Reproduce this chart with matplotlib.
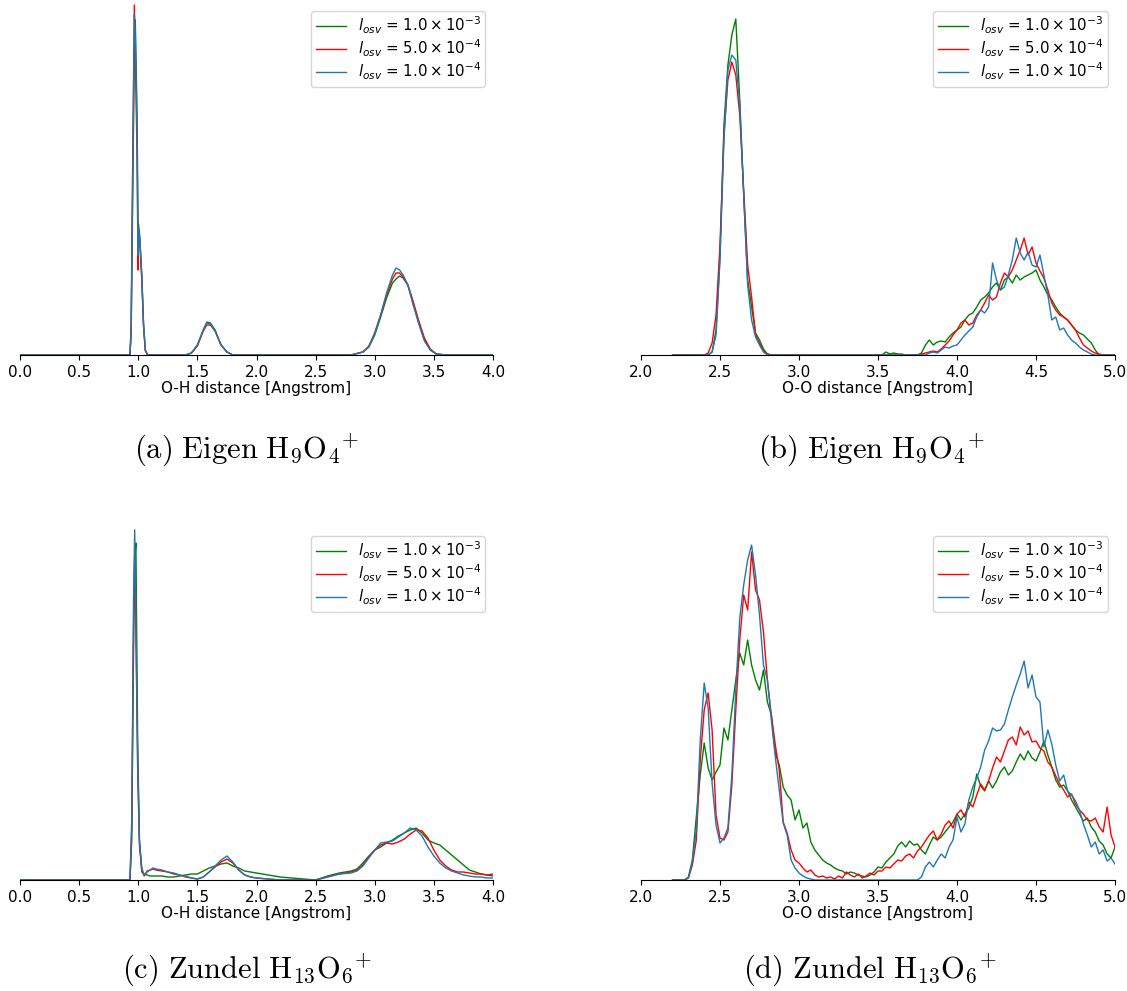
import numpy as np
import matplotlib
matplotlib.use("Agg")
import matplotlib.pyplot as plt

plt.rcParams['mathtext.fontset'] = 'dejavusans'

labels = [r'$l_{osv}$ = $1.0\times10^{-3}$',
          r'$l_{osv}$ = $5.0\times10^{-4}$',
          r'$l_{osv}$ = $1.0\times10^{-4}$']
colors = ['green', 'red', '#1f77b4']

# O-H distances, Eigen
x_a = [0.0, 0.93, 0.94, 0.955, 0.967, 0.975, 0.99, 0.998, 1.002, 1.012, 1.03, 1.045, 1.06, 1.08,
       1.40, 1.45, 1.50, 1.55, 1.58, 1.61, 1.65, 1.70, 1.75, 1.80,
       2.80, 2.90, 2.95, 3.00, 3.05, 3.10, 3.15, 3.18, 3.21, 3.24, 3.28, 3.32, 3.37, 3.42, 3.47, 3.52, 3.60, 4.0]
a_green = [0, 0, 20, 180, 300, 335, 240, 131, 131, 120, 80, 30, 5, 0,
           0, 2, 10, 25, 33, 32, 25, 10, 3, 0,
           0, 3, 8, 20, 38, 57, 72, 76, 79, 77, 70, 55, 33, 15, 5, 1, 0, 0]
a_red = [0, 0, 30, 220, 350, 300, 200, 85, 125, 115, 75, 28, 4, 0,
         0, 2, 9, 24, 30, 30, 24, 10, 3, 0,
         0, 3, 9, 22, 40, 60, 76, 82, 82, 78, 70, 55, 35, 17, 6, 1, 0, 0]
a_blue = [0, 0, 25, 200, 340, 320, 220, 100, 125, 118, 78, 30, 5, 0,
          0, 2, 10, 25, 32, 31, 24, 10, 3, 0,
          0, 3, 8, 22, 40, 62, 80, 87, 85, 80, 70, 52, 32, 14, 5, 1, 0, 0]

# O-H distances, Zundel
x_c = [0.0, 0.93, 0.945, 0.96, 0.97, 0.98, 0.995, 1.01, 1.03,
       1.05, 1.075, 1.1, 1.125, 1.15, 1.2, 1.25, 1.3, 1.35, 1.4, 1.45, 1.5,
       1.55, 1.6, 1.65, 1.7, 1.75, 1.8, 1.85, 1.9, 1.95, 2.0,
       2.1, 2.2, 2.3, 2.4, 2.5, 2.6, 2.7, 2.8,
       2.85, 2.9, 2.95, 3.0, 3.05, 3.1, 3.15, 3.2, 3.25, 3.3, 3.35, 3.4, 3.45, 3.5,
       3.55, 3.6, 3.65, 3.7, 3.75, 3.8, 3.85, 3.9, 3.95, 4.0]
c_green = [0, 0, 40, 230, 320, 337, 140, 40, 8,
           6, 5, 4, 4, 4, 4, 3, 3, 4, 5, 6, 6,
           9, 12, 14, 16, 17, 14, 12, 9, 8, 7,
           5, 3, 2, 1, 0, 4, 7, 9,
           11, 17, 24, 30, 33, 37, 40, 44, 47, 50, 52, 47, 40, 37, 35,
           30, 25, 20, 15, 10, 8, 6, 5, 4]
c_red = [0, 0, 50, 250, 328, 250, 110, 35, 10,
         4, 9, 10, 11, 10, 9, 8, 6, 5, 3, 2, 1,
         3, 8, 13, 18, 21, 17, 10, 5, 3, 2,
         1, 0, 0, 0, 0, 3, 6, 8,
         10, 15, 23, 30, 35, 37, 36, 38, 41, 46, 50, 49, 42, 30, 20,
         14, 10, 8, 8, 7, 6, 6, 5, 6]
c_blue = [0, 0, 60, 280, 350, 260, 120, 40, 12,
          5, 8, 10, 12, 11, 10, 8, 7, 5, 4, 2, 1,
          3, 8, 14, 20, 24, 18, 10, 5, 3, 2,
          1, 0, 0, 0, 0, 3, 6, 7,
          9, 14, 22, 30, 37, 38, 39, 43, 47, 52, 50, 44, 33, 24, 17,
          12, 9, 7, 5, 4, 3, 3, 2, 2]

# O-O distances, bins of 0.025 from 2.2 to 5.0
x_oo = np.round(2.2 + 0.025 * np.arange(113), 3)

b_green = [0, 0, 0, 0, 0, 0, 0, 0, 0, 0, 3, 25, 100, 230, 290, 320, 336, 255, 160, 75,
           48, 22, 15, 6, 1, 0, 0, 0, 0, 0, 0, 0, 0, 0, 0, 0, 0, 0, 0, 0,
           0, 0, 0, 0, 0, 0, 0, 0, 0, 0, 0, 0, 0, 0, 3, 1, 2, 1, 1, 0,
           0, 0, 0, 2, 10, 15, 10, 13, 14, 13, 18, 22, 25, 28, 35, 40, 42, 48, 55, 58,
           62, 68, 72, 65, 75, 78, 72, 80, 75, 78, 80, 82, 85, 75, 68, 60, 55, 48, 42, 38,
           35, 30, 25, 22, 20, 16, 12, 5, 0, 0, 0, 0, 0]
b_red = [0, 0, 0, 0, 0, 0, 0, 0, 0, 2, 12, 40, 110, 220, 275, 293, 280, 240, 165, 90,
         58, 20, 12, 4, 1, 0, 0, 0, 0, 0, 0, 0, 0, 0, 0, 0, 0, 0, 0, 0,
         0, 0, 0, 0, 0, 0, 0, 0, 0, 0, 0, 0, 0, 0, 0, 0, 0, 0, 0, 0,
         0, 0, 0, 1, 2, 3, 4, 3, 6, 10, 14, 20, 25, 32, 35, 30, 32, 40, 45, 52,
         60, 55, 58, 72, 82, 78, 85, 95, 105, 117, 100, 108, 92, 84, 77, 65, 52, 45, 40, 38,
         35, 30, 25, 17, 10, 7, 4, 2, 1, 0, 0, 0, 0]
b_blue = [0, 0, 0, 0, 0, 0, 0, 0, 0, 0, 3, 20, 95, 215, 285, 300, 295, 250, 160, 70,
          35, 18, 10, 3, 0, 0, 0, 0, 0, 0, 0, 0, 0, 0, 0, 0, 0, 0, 0, 0,
          0, 0, 0, 0, 0, 0, 0, 0, 0, 0, 0, 0, 0, 0, 0, 0, 0, 0, 0, 0,
          0, 0, 0, 0, 0, 2, 3, 2, 5, 8, 7, 9, 10, 15, 20, 24, 28, 38, 45, 42,
          48, 92, 75, 65, 68, 80, 95, 117, 102, 95, 103, 90, 88, 100, 80, 60, 35, 38, 25, 27,
          20, 15, 12, 8, 5, 3, 1, 0, 0, 0, 0, 0, 0]

d_green = [0, 0, 0, 0, 3, 20, 63, 105, 137, 112, 100, 108, 115, 152, 140, 170, 200, 227, 215, 240,
           215, 200, 190, 210, 178, 165, 127, 115, 93, 85, 80, 60, 70, 52, 57, 38, 30, 25, 20, 17,
           15, 12, 10, 9, 6, 8, 7, 5, 4, 3, 5, 8, 13, 12, 18, 22, 26, 34, 38, 33,
           39, 35, 36, 30, 26, 35, 43, 40, 43, 48, 53, 58, 66, 60, 66, 72, 83, 106, 94, 89,
           99, 92, 99, 108, 113, 105, 109, 118, 126, 120, 129, 122, 119, 128, 139, 125, 113, 100, 93, 95,
           89, 80, 73, 66, 59, 62, 53, 48, 39, 35, 26, 22, 33]
d_red = [0, 0, 0, 0, 2, 15, 40, 120, 170, 187, 150, 65, 42, 40, 48, 95, 170, 240, 285, 270,
         328, 290, 280, 248, 200, 165, 135, 110, 58, 47, 30, 20, 17, 12, 8, 10, 5, 3, 4, 2,
         3, 1, 4, 2, 8, 5, 3, 6, 2, 4, 7, 5, 9, 9, 13, 12, 16, 20, 19, 24,
         26, 22, 29, 33, 39, 45, 49, 40, 46, 55, 59, 52, 66, 70, 63, 78, 73, 85, 96, 90,
         99, 112, 123, 118, 129, 140, 143, 135, 153, 145, 149, 138, 139, 132, 129, 118, 113, 104, 96, 90,
         83, 86, 76, 70, 66, 60, 59, 62, 53, 48, 73, 45, 33]
d_blue = [0, 0, 0, 0, 2, 18, 50, 140, 197, 172, 97, 55, 37, 42, 52, 105, 190, 262, 295, 320,
          335, 305, 265, 215, 200, 160, 123, 90, 57, 45, 20, 12, 7, 4, 2, 1, 0, 0, 0, 0,
          0, 0, 0, 0, 0, 0, 0, 0, 0, 0, 0, 0, 0, 0, 0, 0, 0, 0, 0, 0,
          0, 0, 0, 3, 13, 18, 13, 20, 26, 22, 33, 40, 63, 48, 56, 80, 93, 102, 113, 130,
          139, 152, 149, 150, 156, 170, 183, 195, 206, 219, 192, 205, 183, 178, 133, 150, 136, 115, 99, 105,
          89, 85, 79, 70, 56, 45, 33, 38, 26, 30, 19, 22, 16]

panels = [
    (x_a, [a_green, a_red, a_blue], (0, 4), 'O-H distance [Angstrom]', r'$\mathrm{(a)\ Eigen\ H_9O_4\!{}^+}$'),
    (x_oo, [b_green, b_red, b_blue], (2, 5), 'O-O distance [Angstrom]', r'$\mathrm{(b)\ Eigen\ H_9O_4\!{}^+}$'),
    (x_c, [c_green, c_red, c_blue], (0, 4), 'O-H distance [Angstrom]', r'$\mathrm{(c)\ Zundel\ H_{13}O_6\!{}^+}$'),
    (x_oo, [d_green, d_red, d_blue], (2, 5), 'O-O distance [Angstrom]', r'$\mathrm{(d)\ Zundel\ H_{13}O_6\!{}^+}$'),
]

W, H = 1127, 991
fig = plt.figure(figsize=(W / 100, H / 100), dpi=100)

# axes boxes in pixels: left, spine y, width
boxes = [(20, 355, 473), (641, 355, 474), (20, 880, 473), (641, 880, 474)]
cap_pos = [(246, 450), (871, 450), (247, 970), (870, 970)]
ax_h = 352

for (x, ys, xl, xlabel, cap), (l, yb, w), (cx, cy) in zip(panels, boxes, cap_pos):
    ax = fig.add_axes([l / W, (H - yb) / H, w / W, ax_h / H])
    for y, c, lab in zip(ys, colors, labels):
        ax.plot(x, y, color=c, lw=1, label=lab)
    ax.set_xlim(*xl)
    ax.set_ylim(0, ax_h)
    ax.set_xticks(np.arange(xl[0], xl[1] + 0.01, 0.5))
    ax.set_yticks([])
    ax.tick_params(axis='x', labelsize=11)
    for s in ['left', 'top', 'right']:
        ax.spines[s].set_visible(False)
    ax.set_xlabel(xlabel, fontsize=11, labelpad=1)
    ax.legend(loc='upper right', fontsize=10.8, labelspacing=0.1, borderpad=0.3)
    fig.text(cx / W, 1 - cy / H, cap, fontsize=22, ha='center', va='center',
             math_fontfamily='cm')

fig.savefig('out.png', dpi=100)
